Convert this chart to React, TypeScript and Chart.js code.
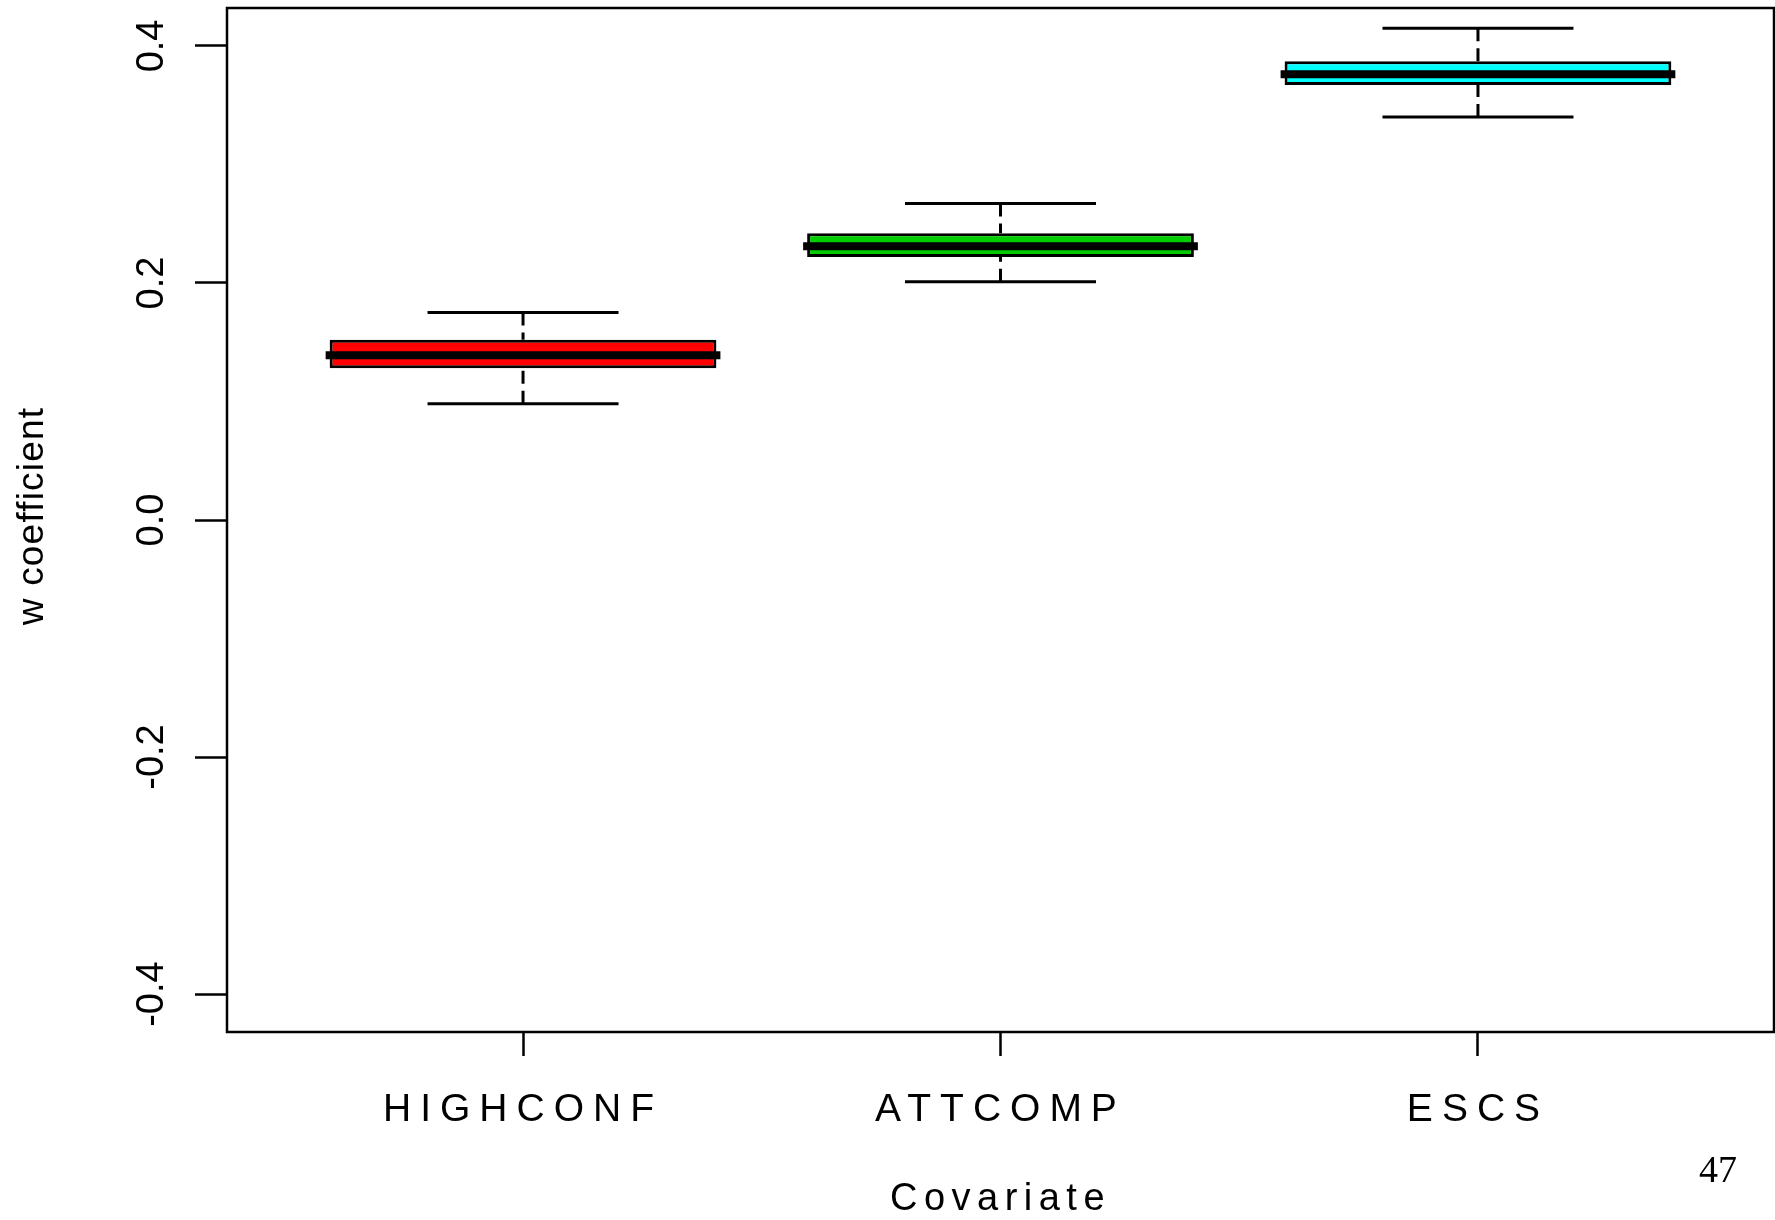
import React, { useEffect, useRef } from 'react';
import { Chart, registerables } from 'chart.js';

Chart.register(...registerables);

// Five-number summaries of the w coefficient for each covariate
const categories = ['HIGHCONF', 'ATTCOMP', 'ESCS'];
const lowerWhisker = [0.098, 0.201, 0.34];
const lowerQuartile = [0.128, 0.222, 0.367];
const medians = [0.139, 0.231, 0.376];
const upperQuartile = [0.152, 0.242, 0.387];
const upperWhisker = [0.175, 0.267, 0.415];
const boxColors = ['#FF0000', '#00CD00', '#00FFFF'];

const yTicks = [-0.4, -0.2, 0, 0.2, 0.4];
const yTickLabels = ['-0.4', '-0.2', '0.0', '0.2', '0.4'];
const xTitle = 'Covariate';
const yTitle = 'w coefficient';
const pageNumber = '47';

// R-style extents: boxes 0.8 wide, staples half that, axes padded by 4%
const BOX_HALF = 0.405;
const STAPLE_HALF = 0.2;
const X_MIN = 0.38;
const X_MAX = 3.62;
const Y_MIN = -0.432;
const Y_MAX = 0.432;

const SANS = '"Liberation Sans", Arial, Helvetica, sans-serif';
const SERIF = '"Liberation Serif", "Times New Roman", serif';

const positions = categories.map((_, i) => i + 1);

const boxData = positions.map((x, i) => ({ x, y: [lowerQuartile[i], upperQuartile[i]] }));

const medianData = positions.flatMap((x, i) => [
  { x: x - BOX_HALF, y: medians[i] },
  { x: x + BOX_HALF, y: medians[i] },
  { x, y: null },
]);

const whiskerData = positions.flatMap((x, i) => [
  { x, y: upperWhisker[i] },
  { x, y: upperQuartile[i] },
  { x, y: null },
  { x, y: lowerWhisker[i] },
  { x, y: lowerQuartile[i] },
  { x, y: null },
]);

const stapleData = positions.flatMap((x, i) => [
  { x: x - STAPLE_HALF, y: upperWhisker[i] },
  { x: x + STAPLE_HALF, y: upperWhisker[i] },
  { x, y: null },
  { x: x - STAPLE_HALF, y: lowerWhisker[i] },
  { x: x + STAPLE_HALF, y: lowerWhisker[i] },
  { x, y: null },
]);

// Frame, rotated axis labels and spaced-out category names
const annotationPlugin = {
  id: 'plotText',
  afterDraw(chart: any) {
    const { ctx, chartArea: a, scales } = chart;
    const xs = scales.x;
    const ys = scales.y;
    ctx.save();
    ctx.strokeStyle = '#000';
    ctx.lineWidth = 2.5;
    ctx.strokeRect(a.left, a.top, a.right - a.left, a.bottom - a.top);

    ctx.fillStyle = '#000';
    ctx.textBaseline = 'alphabetic';
    ctx.textAlign = 'center';

    // y tick labels, reading bottom to top
    ctx.font = `38px ${SANS}`;
    yTicks.forEach((v, i) => {
      const y = ys.getPixelForValue(v);
      ctx.save();
      ctx.translate(a.left - 64, y);
      ctx.rotate(-Math.PI / 2);
      ctx.fillText(yTickLabels[i], 0, 0);
      ctx.restore();
    });

    // y axis title
    ctx.save();
    ctx.font = `37px ${SANS}`;
    ctx.letterSpacing = '1.2px';
    ctx.translate(a.left - 184, (a.top + a.bottom) / 2 - 4);
    ctx.rotate(-Math.PI / 2);
    ctx.fillText(yTitle, 0, 0);
    ctx.restore();

    // category labels
    ctx.save();
    ctx.font = `39px ${SANS}`;
    ctx.letterSpacing = '9px';
    categories.forEach((c, i) => {
      ctx.fillText(c, xs.getPixelForValue(positions[i]), a.bottom + 89);
    });
    ctx.restore();

    // x axis title
    ctx.save();
    ctx.font = `38px ${SANS}`;
    ctx.letterSpacing = '6.5px';
    ctx.fillText(xTitle, (a.left + a.right) / 2, a.bottom + 178);
    ctx.restore();

    // page number
    ctx.font = `38px ${SERIF}`;
    ctx.fillText(pageNumber, a.right - 56, a.bottom + 150);

    ctx.restore();
  },
};

export default function App() {
  const ref = useRef<HTMLCanvasElement>(null);

  useEffect(() => {
    document.body.style.margin = '0';
    const canvas = ref.current;
    if (!canvas) return;

    const chart = new Chart(canvas, {
      type: 'bar',
      data: {
        datasets: [
          {
            type: 'line',
            data: medianData as any,
            borderColor: '#000',
            borderWidth: 8,
            borderCapStyle: 'square',
            pointRadius: 0,
            spanGaps: false,
            fill: false,
            order: 0,
          },
          {
            type: 'line',
            data: stapleData as any,
            borderColor: '#000',
            borderWidth: 3,
            pointRadius: 0,
            spanGaps: false,
            fill: false,
            order: 1,
          },
          {
            type: 'line',
            data: whiskerData as any,
            borderColor: '#000',
            borderWidth: 3,
            borderDash: [13, 7],
            pointRadius: 0,
            spanGaps: false,
            fill: false,
            order: 2,
          },
          {
            type: 'bar',
            data: boxData as any,
            backgroundColor: boxColors,
            borderColor: '#000',
            borderWidth: 3,
            borderSkipped: false,
            categoryPercentage: 1,
            barPercentage: 0.81,
            order: 3,
          },
        ],
      },
      options: {
        responsive: false,
        animation: false,
        events: [],
        layout: { padding: { left: 0, top: 8, right: 1, bottom: 0 } },
        plugins: {
          legend: { display: false },
          tooltip: { enabled: false },
        },
        scales: {
          x: {
            type: 'linear',
            min: X_MIN,
            max: X_MAX,
            offset: false,
            afterBuildTicks: (s: any) => {
              s.ticks = positions.map((v) => ({ value: v }));
            },
            afterFit: (s: any) => {
              s.height = 188;
            },
            ticks: { display: false },
            border: { display: false },
            grid: {
              display: true,
              offset: false,
              drawOnChartArea: false,
              drawTicks: true,
              tickLength: 24,
              tickColor: '#000',
              tickWidth: 2.5,
            },
          },
          y: {
            type: 'linear',
            min: Y_MIN,
            max: Y_MAX,
            afterBuildTicks: (s: any) => {
              s.ticks = yTicks.map((v) => ({ value: v }));
            },
            afterFit: (s: any) => {
              s.width = 227;
            },
            ticks: { display: false },
            border: { display: false },
            grid: {
              display: true,
              offset: false,
              drawOnChartArea: false,
              drawTicks: true,
              tickLength: 32,
              tickColor: '#000',
              tickWidth: 2.5,
            },
          },
        },
      } as any,
      plugins: [annotationPlugin],
    });

    return () => chart.destroy();
  }, []);

  return (
    <div style={{ position: 'absolute', left: 0, top: 0, width: 1775, height: 1220, background: '#fff' }}>
      <canvas ref={ref} width={1775} height={1220} style={{ display: 'block', width: 1775, height: 1220 }} />
    </div>
  );
}
